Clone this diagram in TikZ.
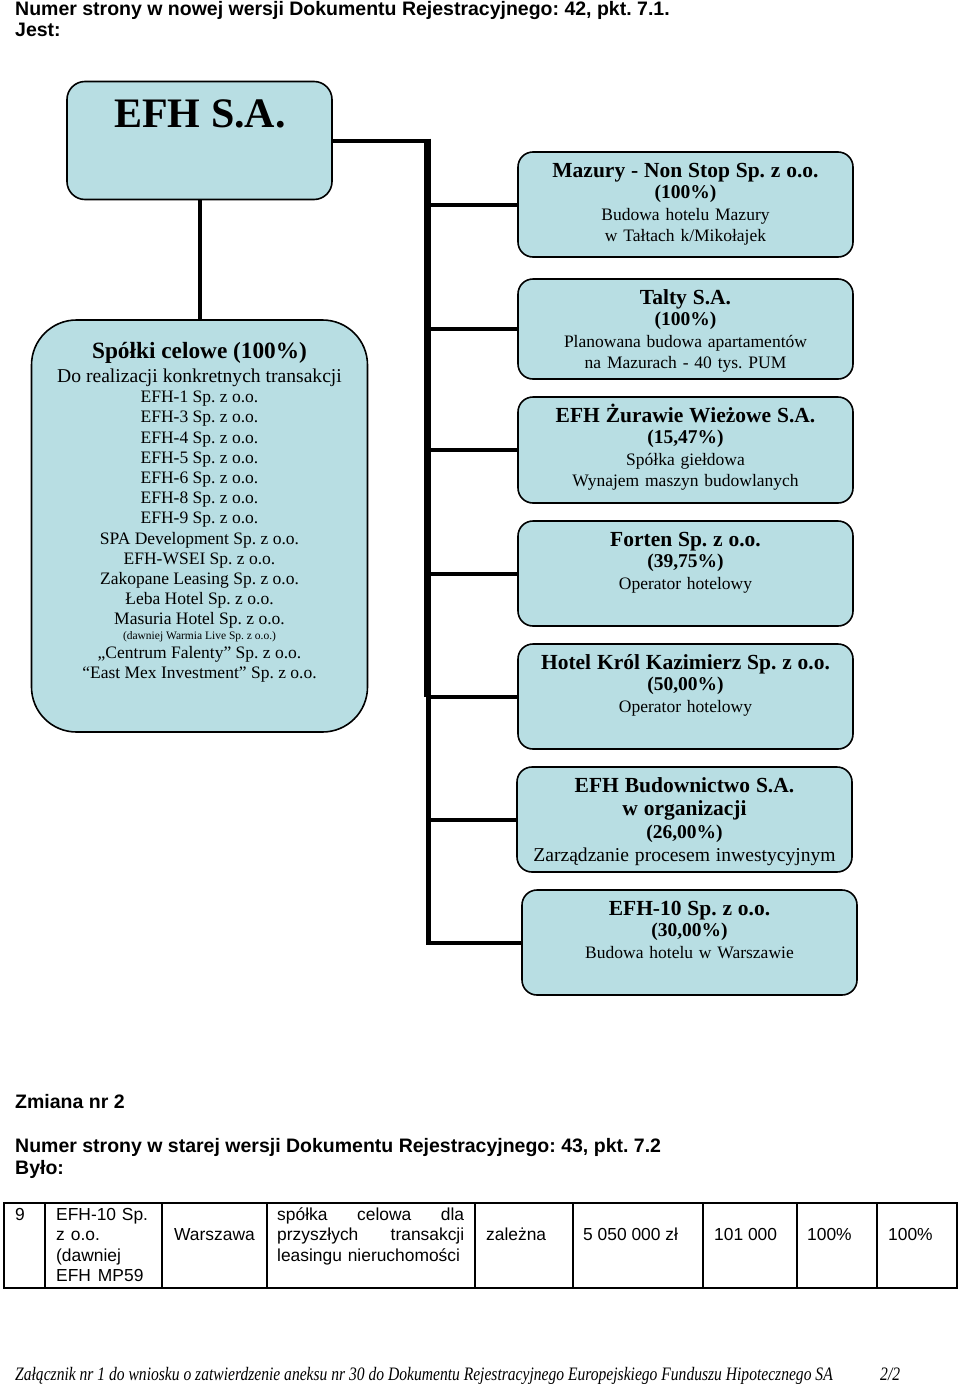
\documentclass[tikz,border=0pt]{standalone}
\usepackage{fontspec}
\usepackage{graphicx}
\setmainfont{Liberation Serif}
\setsansfont{Liberation Sans}
\frenchspacing
\usetikzlibrary{calc,positioning}
\definecolor{boxblue}{RGB}{184,222,227}
\newcommand{\boxtitle}[1]{{\fontsize{21.5}{21.5}\selectfont\bfseries #1}}
\newcommand{\boxshare}[1]{{\fontsize{19.5}{21.5}\selectfont\bfseries #1}}
\newcommand{\footfont}{\fontsize{19}{20}\selectfont\itshape}
\tikzset{
	company/.style={draw,rounded corners=15pt,fill=boxblue,line width=1.6pt,minimum width=335pt,minimum height=105pt,inner sep=0pt},
	boxtext/.style={text width=330pt,align=center,inner sep=0pt,anchor=base,font=\fontsize{17.5}{21.5}\selectfont},
	member/.style={anchor=base,inner sep=0pt,font=\fontsize{17.5}{20}\selectfont},
	heading/.style={anchor=base west,inner sep=0pt,font=\sffamily\bfseries\fontsize{19.5}{22}\selectfont},
	cell/.style={anchor=base west,inner sep=0pt,font=\sffamily\fontsize{17.4}{20.5}\selectfont},
	branch/.style={line width=4pt},
	spine/.style={line width=7pt},
	lowspine/.style={line width=5pt}
}

\begin{document}
\begin{tikzpicture}[x=1pt,y=-1pt]
\useasboundingbox (0,0) rectangle (960,1384);
% headings
\node[heading] (head1) at (15,15.5) {Numer strony w nowej wersji Dokumentu Rejestracyjnego: 42, pkt. 7.1.};
\node[heading] (jest) at (15,36.5) {Jest:};

% parent company
\node[company,rounded corners=18pt,minimum width=265pt,minimum height=118pt] (efh) at (199.5,140.5) {};
\node[anchor=base,inner sep=0pt,font=\fontsize{42}{42}\selectfont\bfseries] (efhname) at (200,127) {EFH S.A.};

% special purpose companies
\node[company,rounded corners=45pt,minimum width=336pt,minimum height=412pt] (celowe) at (199.5,526) {};
\node[member,font=\fontsize{23.3}{24}\selectfont\bfseries] (celtitle) at (199.5,358) {Spółki celowe (100\%)};
\node[member,font=\fontsize{19.6}{20}\selectfont] (celsub) at (199.5,382) {Do realizacji konkretnych transakcji};
\foreach \firm [count=\i] in {EFH-1,EFH-3,EFH-4,EFH-5,EFH-6,EFH-8,EFH-9,SPA Development,EFH-WSEI,Zakopane Leasing,Łeba Hotel,Masuria Hotel}
	\node[member] (firm\i) at (199.5,{402.7+20.2*(\i-1)}) {\firm{} Sp. z o.o.};
\node[member,font=\fontsize{11.5}{12}\selectfont] (dawniej) at (199.5,639) {(dawniej Warmia Live Sp. z o.o.)};
\node[member] (falenty) at (199.5,658.5) {„Centrum Falenty” Sp. z o.o.};
\node[member] (eastmex) at (199.5,678.5) {“East Mex Investment” Sp. z o.o.};

% affiliated companies
\node[company] (mazury) at (685.5,204.5) {};
\node[boxtext] (mazurytxt) at ($(mazury.north)+(0,26)$) {\boxtitle{Mazury - Non Stop Sp. z o.o.}\\ \boxshare{(100\%)}\\ Budowa hotelu Mazury\\ w Tałtach k/Mikołajek};

\node[company,minimum height=100pt] (talty) at (685.5,329) {};
\node[boxtext] (taltytxt) at ($(talty.north)+(0,26)$) {\boxtitle{Talty S.A.}\\ \boxshare{(100\%)}\\ Planowana budowa apartamentów\\ na Mazurach - 40 tys. PUM};

\node[company,minimum height=106pt] (zurawie) at (685.5,450) {};
\node[boxtext] (zurawietxt) at ($(zurawie.north)+(0,26)$) {\boxtitle{EFH Żurawie Wieżowe S.A.}\\ \boxshare{(15,47\%)}\\ Spółka giełdowa\\ Wynajem maszyn budowlanych};

\node[company] (forten) at (685.5,573.5) {};
\node[boxtext] (fortentxt) at ($(forten.north)+(0,26)$) {\boxtitle{Forten Sp. z o.o.}\\ \boxshare{(39,75\%)}\\ Operator hotelowy};

\node[company] (krol) at (685.5,696.5) {};
\node[boxtext] (kroltxt) at ($(krol.north)+(0,26)$) {\boxtitle{Hotel Król Kazimierz Sp. z o.o.}\\ \boxshare{(50,00\%)}\\ Operator hotelowy};

\node[company] (budow) at (684.5,819.5) {};
\node[boxtext,font=\fontsize{17.5}{23.2}\selectfont] (budowtxt) at ($(budow.north)+(0,26)$) {\boxtitle{EFH Budownictwo S.A.}\\ \boxtitle{w organizacji}\\ \boxshare{(26,00\%)}\\ {\fontsize{19.6}{23}\selectfont Zarządzanie procesem inwestycyjnym}};

\node[company] (efhten) at (689.5,942.5) {};
\node[boxtext] (efhtentxt) at ($(efhten.north)+(0,26)$) {\boxtitle{EFH-10 Sp. z o.o.}\\ \boxshare{(30,00\%)}\\ Budowa hotelu w Warszawie};

% connectors
\coordinate (spinetop) at (427,138.5);
\coordinate (spinebend) at (427,696.5);
\coordinate (spineend) at (428,944.5);
\draw[branch] (efh.south) -- (celowe.north);
\draw[branch] (efh.east) -- (efh.east -| spinetop);
\draw[spine] (spinetop) -- (spinebend);
\draw[lowspine] (spinebend -| spineend) -- (spineend);
\foreach \firm in {mazury,talty,zurawie,forten,krol,budow,efhten}
	\draw[branch] (\firm.west) -- (\firm.west -| spineend);

% second change
\node[heading] (zmiana) at (15,1108) {Zmiana nr 2};
\node[heading] (head2) at (15,1152) {Numer strony w starej wersji Dokumentu Rejestracyjnego: 43, pkt. 7.2};
\node[heading] (bylo) at (15,1174) {Było:};

% old table row
\draw[line width=1.5pt] (4,1203) rectangle (957,1288);
\foreach \x in {45,162,267,475,573,703,797,877}
	\draw[line width=1.2pt] (\x,1203) -- (\x,1288);
\node[cell] (lp) at (15,1220) {9};
\node[cell,text width=100pt,align=left] (name) at (56,1220) {EFH-10 Sp.\\ z\hspace{6pt}o.o.\\ (dawniej\\ EFH\hspace{7pt}MP59};
\node[cell] (seat) at (174,1240) {Warszawa};
\node[cell,text width=187pt,align=left] (purpose) at (277,1220) {spółka\hfill celowa\hfill dla\\ przyszłych\hfill transakcji\\ leasingu nieruchomości};
\node[cell] (kind) at (486,1240) {zależna};
\node[cell] (capital) at (583,1240) {5 050 000 zł};
\node[cell] (shares) at (714,1240) {101 000};
\node[cell] (capshare) at (807,1240) {100\%};
\node[cell] (voteshare) at (888,1240) {100\%};

% footer
\node[anchor=base west,inner sep=0pt,font=\footfont] (footer) at (15,1380) {\scalebox{0.82}[1]{Załącznik nr 1 do wniosku o zatwierdzenie aneksu nr 30 do Dokumentu Rejestracyjnego Europejskiego Funduszu Hipotecznego SA}};
\node[anchor=base west,inner sep=0pt,font=\footfont] (pagenum) at (880,1380) {\scalebox{0.82}[1]{2/2}};
\end{tikzpicture}
\end{document}
